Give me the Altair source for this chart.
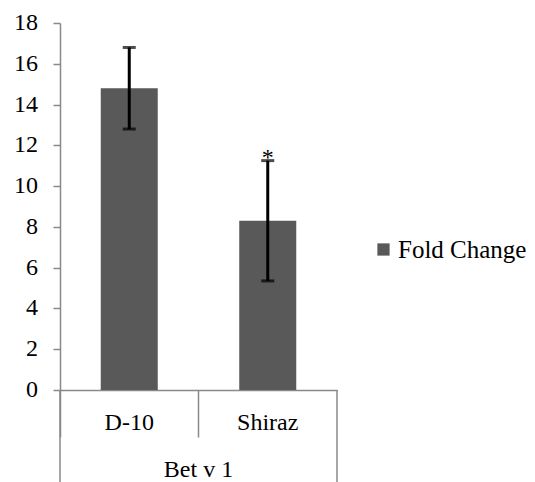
import altair as alt
import pandas as pd

categories = ["D-10", "Shiraz"]
fold_change = [14.8, 8.3]
error = [2.0, 2.95]
significance = ["", "*"]
group_label = "Bet v 1"
series_name = "Fold Change"
y_ticks = [0, 2, 4, 6, 8, 10, 12, 14, 16, 18]

df = pd.DataFrame({
    "cat": categories,
    "val": fold_change,
    "lo": [v - e for v, e in zip(fold_change, error)],
    "hi": [v + e for v, e in zip(fold_change, error)],
    "sig": significance,
    "series": [series_name] * len(categories),
})
ticks_df = pd.DataFrame({"t": y_ticks, "lab": [str(t) for t in y_ticks]})
group_df = pd.DataFrame({"g": [group_label]})

W, H = 277, 367
FONT = "Times New Roman, Liberation Serif, serif"
FS = 24
AX = "#898989"

yscale = alt.Scale(domain=[0, 18])
xaxis = alt.Axis(title=None, labels=False)
xs = alt.X("cat:N", sort=categories, axis=xaxis,
           scale=alt.Scale(paddingInner=0, paddingOuter=0))
yaxis = alt.Axis(title=None, values=y_ticks, labels=False)

bars = alt.Chart(df).mark_bar(size=57, color="#595959").encode(
    x=xs,
    y=alt.Y("val:Q", scale=yscale, axis=yaxis),
    color=alt.Color("series:N", scale=alt.Scale(range=["#595959"]),
                    legend=alt.Legend(title=None, orient="none", legendX=311, legendY=214,
                                      symbolType="square", symbolSize=150, labelOffset=2,
                                      labelFont=FONT, labelFontSize=25,
                                      labelColor="#000000", symbolStrokeWidth=0)),
)

rules = alt.Chart(df).mark_rule(color="black", strokeWidth=3).encode(
    x=xs, y=alt.Y("lo:Q", scale=yscale, axis=yaxis), y2="hi:Q")
caps_lo = alt.Chart(df).mark_tick(color="black", thickness=3, size=13, orient="horizontal").encode(
    x=xs, y=alt.Y("lo:Q", scale=yscale, axis=yaxis))
caps_hi = alt.Chart(df).mark_tick(color="black", thickness=3, size=13, orient="horizontal").encode(
    x=xs, y=alt.Y("hi:Q", scale=yscale, axis=yaxis))
stars = alt.Chart(df).mark_text(font="serif", fontSize=24, baseline="alphabetic", dy=4, color="black").encode(
    x=xs, y=alt.Y("hi:Q", scale=yscale, axis=yaxis), text="sig:N")

ylabels = alt.Chart(ticks_df).mark_text(font="serif", fontSize=FS, align="right",
                                        baseline="middle", color="black").encode(
    x=alt.value(-22), y=alt.Y("t:Q", scale=yscale, axis=yaxis), text="lab:N")
xlabels = alt.Chart(df).mark_text(font="Times New Roman", fontSize=FS, align="center",
                                  baseline="middle", color="black").encode(
    x=xs, y=alt.value(H + 33), text="cat:N")
glabel = alt.Chart(group_df).mark_text(font="Liberation Serif", fontSize=FS, align="center",
                                       baseline="middle", color="black").encode(
    x=alt.value(W / 2), y=alt.value(H + 80), text="g:N")

edges = alt.Chart(pd.DataFrame({"p": [0, W]})).mark_rule(color=AX, strokeWidth=1.5).encode(
    x=alt.X("p:Q", scale=None), y=alt.value(H), y2=alt.value(H + 100))

chart = alt.layer(bars, rules, caps_lo, caps_hi, stars, ylabels, xlabels, glabel, edges).properties(
    width=W, height=H,
    background="white",
    autosize=alt.AutoSizeParams(type="none"),
    padding={"left": 52, "top": 15, "right": 190, "bottom": 92},
).configure_view(strokeWidth=0).configure_axis(
    tickColor=AX, tickWidth=1.5, domainColor=AX, domainWidth=1.5, grid=False,
).configure_axisX(
    bandPosition=0, tickSize=47,
).configure_axisY(
    tickSize=7,
)

chart.save("out.html", embed_options={"renderer": "svg", "actions": False})
